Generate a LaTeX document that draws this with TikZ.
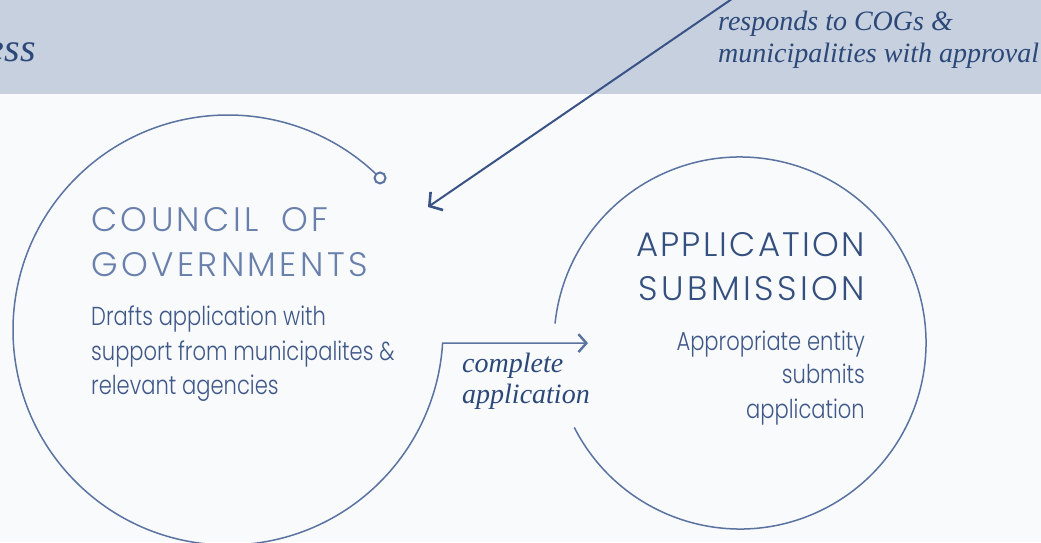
\documentclass[tikz,border=0pt]{standalone}
\usepackage{fontspec}
\usetikzlibrary{arrows.meta}
\setmainfont{Liberation Serif}
\newfontfamily\geo{Poppins Light}[FakeStretch=0.81]
\newfontfamily\geohead{Poppins Light}[LetterSpace=10.0]
\newfontfamily\geoheadA{Poppins Light}[LetterSpace=6.5]
\definecolor{band}{HTML}{C6D0DE}
\definecolor{paper}{HTML}{F8FAFC}
\definecolor{ink}{HTML}{2C4879}
\definecolor{stroke}{HTML}{5B73A1}
\definecolor{arrowc}{HTML}{3A5387}
\definecolor{headA}{HTML}{6A80AC}
\definecolor{headB}{HTML}{35507F}
\definecolor{bodyc}{HTML}{3F5888}
\tikzset{
  circ/.style={draw=stroke, line width=1.5pt},
  knobstyle/.style={circle, draw=stroke, line width=2pt, fill=paper, minimum size=11pt, inner sep=0pt},
  bigarrow/.style={draw=arrowc, line width=2pt, -{Straight Barb[length=9pt,width=22pt,line width=2.6pt]}},
  smallarrow/.style={-{Straight Barb[length=8pt,width=18pt,line width=2.4pt]}},
  lab/.style={inner sep=0pt, font=\itshape\fontsize{28}{34}\selectfont, text=ink},
  title/.style={inner sep=0pt, font=\itshape\fontsize{40}{48}\selectfont, text=ink},
  headl/.style={inner sep=0pt, font=\geohead\fontsize{34}{45}\selectfont, text=headA},
  headr/.style={inner sep=0pt, font=\geohead\fontsize{34}{45}\selectfont, text=headB},
  body/.style={inner sep=0pt, font=\geo\fontsize{26}{35}\selectfont, text=bodyc}
}
\begin{document}
\begin{tikzpicture}[x=1pt,y=1pt]
\useasboundingbox (0,0) rectangle (1041,542);
\fill[paper] (0,0) rectangle (1041,542);
\fill[band] (0,447.5) rectangle (1041,542);
% title fragment
\node[title, anchor=base east] (ess) at (36,480) {ess};
% top-right label
\node[lab, anchor=base west] (resp1) at (718,511) {responds to COGs \&};
\node[lab, anchor=base west] (resp2) at (718,479) {municipalities with approval};
% circles
\coordinate (lc) at (228,212);
\coordinate (rc) at (740,199);
\coordinate (tipA) at (588,199);
\draw[circ, smallarrow] ([shift={(45:215)}]lc) arc[start angle=45, end angle=356.5, radius=215] coordinate (lcend) -- (lcend -| tipA);
\node[knobstyle] (knob) at ([shift={(45:215)}]lc) {};
\draw[circ] ([shift={(207:186)}]rc) arc[start angle=207, end angle=534, radius=186];
% big arrow
\coordinate (far) at (745,552);
\coordinate (near) at (428,335);
\draw[bigarrow] (far) -- (near);
% left circle text
\node[headl, anchor=base west] (cog1) at (91,311) {COUNCIL\hspace{10pt} OF};
\node[headl, anchor=base west] (cog2) at (91,266) {GOVERNMENTS};
\node[body, anchor=base west] (b1) at (91,217) {Drafts application with};
\node[body, anchor=base west] (b2) at (91,182) {support from municipalites \&};
\node[body, anchor=base west] (b3) at (91,148) {relevant agencies};
% right circle text
\node[headr, font=\geoheadA\fontsize{34}{45}\selectfont, anchor=base east] (as1) at (865,286) {APPLICATION};
\node[headr, anchor=base east] (as2) at (865,242) {SUBMISSION};
\node[body, anchor=base east] (r1) at (865,192) {Appropriate entity};
\node[body, anchor=base east] (r2) at (865,159) {submits};
\node[body, anchor=base east] (r3) at (865,124) {application};
% arrow label
\node[lab, anchor=base west] (cl1) at (462,170) {complete};
\node[lab, anchor=base west] (cl2) at (462,139) {application};
\end{tikzpicture}
\end{document}
